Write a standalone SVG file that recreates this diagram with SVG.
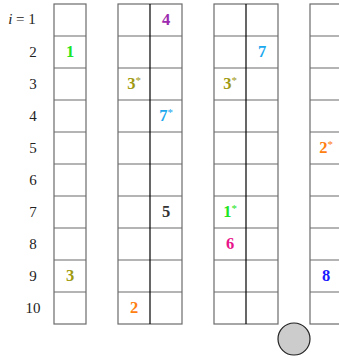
<svg xmlns="http://www.w3.org/2000/svg" width="339" height="358" viewBox="0 0 339 358">
<style>
.g{fill:none;stroke:#6b6b6b;stroke-width:1.2}
.m{stroke:#000;stroke-width:1.2}
.lbl{font-family:"Liberation Serif",serif;font-size:15px;fill:#222;text-anchor:middle}
.n{font-family:"Liberation Serif",serif;font-size:16.5px;font-weight:bold;text-anchor:middle}
.s{font-size:11px;font-weight:normal}
</style>
<rect width="339" height="358" fill="#fff"/>
<g id="labels">
<text class="lbl" x="22" y="24"><tspan font-style="italic">i</tspan> = 1</text>
<text class="lbl" x="33" y="57">2</text>
<text class="lbl" x="33" y="89">3</text>
<text class="lbl" x="33" y="121">4</text>
<text class="lbl" x="33" y="153">5</text>
<text class="lbl" x="33" y="185">6</text>
<text class="lbl" x="33" y="217">7</text>
<text class="lbl" x="33" y="249">8</text>
<text class="lbl" x="33" y="281">9</text>
<text class="lbl" x="33" y="313">10</text>
</g>
<g id="table1">
<rect class="g" x="54" y="4" width="32" height="320"/>
<path class="g" d="M54 36H86M54 68H86M54 100H86M54 132H86M54 164H86M54 196H86M54 228H86M54 260H86M54 292H86"/>
<text class="n" x="70" y="57" fill="#22e522">1</text>
<text class="n" x="70" y="281" fill="#a09a10">3</text>
</g>
<g id="table2">
<rect class="g" x="118" y="4" width="64" height="320"/>
<path class="g" d="M118 36H182M118 68H182M118 100H182M118 132H182M118 164H182M118 196H182M118 228H182M118 260H182M118 292H182"/>
<line class="m" x1="150" y1="4" x2="150" y2="324"/>
<text class="n" x="166" y="25" fill="#9b2aae">4</text>
<text class="n" x="134" y="89" fill="#a09a10">3<tspan class="s" dy="-5">*</tspan></text>
<text class="n" x="166" y="121" fill="#1aa8ee">7<tspan class="s" dy="-5">*</tspan></text>
<text class="n" x="166" y="217" fill="#333">5</text>
<text class="n" x="134" y="313" fill="#ff8010">2</text>
</g>
<g id="table3">
<rect class="g" x="214" y="4" width="64" height="320"/>
<path class="g" d="M214 36H278M214 68H278M214 100H278M214 132H278M214 164H278M214 196H278M214 228H278M214 260H278M214 292H278"/>
<line class="m" x1="246" y1="4" x2="246" y2="324"/>
<text class="n" x="262" y="57" fill="#1aa8ee">7</text>
<text class="n" x="230" y="89" fill="#a09a10">3<tspan class="s" dy="-5">*</tspan></text>
<text class="n" x="230" y="217" fill="#22e522">1<tspan class="s" dy="-5">*</tspan></text>
<text class="n" x="230" y="249" fill="#e8158a">6</text>
</g>
<g id="table4">
<rect class="g" x="310" y="4" width="64" height="320"/>
<path class="g" d="M310 36H374M310 68H374M310 100H374M310 132H374M310 164H374M310 196H374M310 228H374M310 260H374M310 292H374"/>
<text class="n" x="326" y="153" fill="#ff8010">2<tspan class="s" dy="-5">*</tspan></text>
<text class="n" x="326" y="281" fill="#1a1aff">8</text>
</g>
<g id="circle">
<circle cx="294" cy="339" r="16" fill="#cccccc" stroke="#222" stroke-width="1.2"/>
</g>
<g id="connectors"/>
</svg>
